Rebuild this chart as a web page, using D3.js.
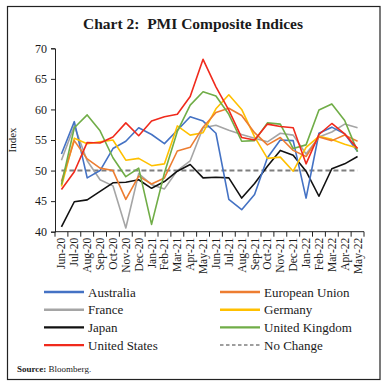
<!DOCTYPE html>
<html>
<head>
<meta charset="utf-8">
<script src="https://cdn.jsdelivr.net/npm/d3@7"></script>
<style>
  html, body { margin: 0; padding: 0; background: #fff; }
  svg { display: block; }
  text { font-family: "Liberation Serif", "DejaVu Serif", serif; fill: #1a1a1a; }
</style>
</head>
<body>
<svg id="chart" width="386" height="386"></svg>
<script>
const months = ["Jun-20","Jul-20","Aug-20","Sep-20","Oct-20","Nov-20","Dec-20","Jan-21","Feb-21","Mar-21","Apr-21","May-21",
                "Jun-21","Jul-21","Aug-21","Sep-21","Oct-21","Nov-21","Dec-21","Jan-22","Feb-22","Mar-22","Apr-22","May-22"];
const australia = [52.7,58.0,48.8,50.0,53.6,54.8,57.0,55.9,54.4,56.6,58.8,58.1,56.1,45.3,43.6,46.1,52.1,55.0,54.9,45.5,56.1,57.1,56.0,53.1];
const europeanUnion = [48.2,54.9,51.9,50.4,50.0,45.3,49.1,47.8,48.8,53.2,53.8,57.1,59.5,60.2,59.0,56.2,54.2,55.4,53.3,52.3,55.5,54.9,55.8,54.8];
const france = [51.7,57.3,51.6,48.5,47.5,40.6,49.5,47.7,47.0,50.0,51.6,57.0,57.4,56.6,55.9,55.3,54.7,56.1,55.8,52.7,55.5,56.3,57.6,57.0];
const germany = [47.4,55.3,54.4,54.7,55.0,51.7,52.0,50.8,51.1,57.3,55.8,56.2,60.1,62.4,60.0,55.5,52.0,52.2,49.9,53.8,55.6,55.1,54.3,53.7];
const japan = [40.8,44.9,45.2,46.6,48.0,48.1,48.5,47.1,48.2,49.9,51.0,48.8,48.9,48.8,45.5,47.9,50.7,53.3,52.5,49.9,45.8,50.3,51.1,52.3];
const unitedKingdom = [47.7,57.0,59.1,56.5,52.1,49.0,50.4,41.2,49.6,56.4,60.7,62.9,62.2,59.2,54.8,54.9,57.8,57.6,53.6,54.2,59.9,60.9,58.2,53.1];
const unitedStates = [46.9,49.8,54.6,54.5,55.5,57.8,55.7,58.1,58.8,59.2,62.1,68.2,63.7,59.9,55.4,55.0,57.6,57.2,57.0,51.1,55.9,57.7,56.0,53.6];
const noChange = months.map(() => 50);
const yTicks = [40,45,50,55,60,65,70];

const seriesNames = ["Australia","European Union","France","Germany","Japan","United Kingdom","United States","No Change"];
const seriesValues = [australia, europeanUnion, france, germany, japan, unitedKingdom, unitedStates, noChange];
const seriesColors = ["#4472C4","#ED7D31","#A5A5A5","#FFC000","#111111","#70AD47","#F02A1C","#7f7f7f"];
const seriesDash = [null,null,null,null,null,null,null,"5,3"];

const svg = d3.select("#chart");

// outer frame
svg.append("rect").attr("x",7.5).attr("y",6.5).attr("width",372.5).attr("height",373)
  .attr("fill","none").attr("stroke","#222").attr("stroke-width",1.2);

// title
svg.append("text").attr("x",193).attr("y",29).attr("text-anchor","middle")
  .style("white-space","pre")
  .attr("font-size","15.5px").attr("font-weight","bold").text("Chart 2:\u00A0\u00A0PMI Composite Indices");

const pLeft = 55, pRight = 364, pTop = 48.3, pBottom = 231.7;
const x = d3.scaleBand().domain(months).range([pLeft, pRight]).padding(0);
const y = d3.scaleLinear().domain([40,70]).range([pBottom, pTop]);

// y axis
const yAxis = svg.append("g").attr("transform",`translate(${pLeft},0)`)
  .call(d3.axisLeft(y).tickValues(yTicks).tickSize(4).tickPadding(4));
yAxis.selectAll("text").attr("font-size","12px").attr("font-family","Liberation Serif, serif").attr("fill","#222");
yAxis.selectAll("line,path").attr("stroke","#222");

svg.append("text").attr("transform",`translate(16,${(pTop+pBottom)/2}) rotate(-90)`)
  .attr("text-anchor","middle").attr("font-size","11px").text("Index");

// x axis: line + boundary ticks
const xg = svg.append("g");
xg.append("line").attr("x1",pLeft).attr("x2",pRight).attr("y1",pBottom).attr("y2",pBottom).attr("stroke","#222");
const bounds = months.map(m => x(m)).concat([x(months[months.length-1]) + x.bandwidth()]);
xg.selectAll("line.tk").data(bounds).join("line").attr("class","tk")
  .attr("x1",d=>d).attr("x2",d=>d).attr("y1",pBottom).attr("y2",pBottom+5).attr("stroke","#222");
xg.selectAll("text.lbl").data(months).join("text").attr("class","lbl")
  .attr("transform",d=>`translate(${x(d)+x.bandwidth()/2+4},${pBottom+6}) rotate(-90)`)
  .attr("text-anchor","end").attr("font-size","11.5px").text(d=>d);

// lines
const line = d3.line().x((d,i)=>x(months[i])+x.bandwidth()/2).y(d=>y(d));
const order = [7,2,4,0,3,1,5,6];
order.forEach(k => {
  svg.append("path").datum(seriesValues[k]).attr("d",line)
    .attr("fill","none").attr("stroke",seriesColors[k])
    .attr("stroke-width", k===7 ? 2 : 1.6)
    .attr("stroke-dasharray", seriesDash[k])
    .attr("stroke-linejoin","round");
});

// legend
const legX = [44, 220], legY0 = 292, legDy = 17.7;
seriesNames.forEach((n,i) => {
  const cx = legX[i%2], cy = legY0 + Math.floor(i/2)*legDy;
  svg.append("line").attr("x1",cx).attr("x2",cx+40).attr("y1",cy).attr("y2",cy)
    .attr("stroke",seriesColors[i]).attr("stroke-width", i===7?1.5:2.4)
    .attr("stroke-dasharray", i===7 ? "3.5,2.5" : null);
  svg.append("text").attr("x",cx+44).attr("y",cy+4.5).attr("font-size","13px").text(n);
});

// source
const src = svg.append("text").attr("x",17).attr("y",372).attr("font-size","9px");
src.append("tspan").attr("font-weight","bold").text("Source: ");
src.append("tspan").text("Bloomberg.");
</script>
</body>
</html>
